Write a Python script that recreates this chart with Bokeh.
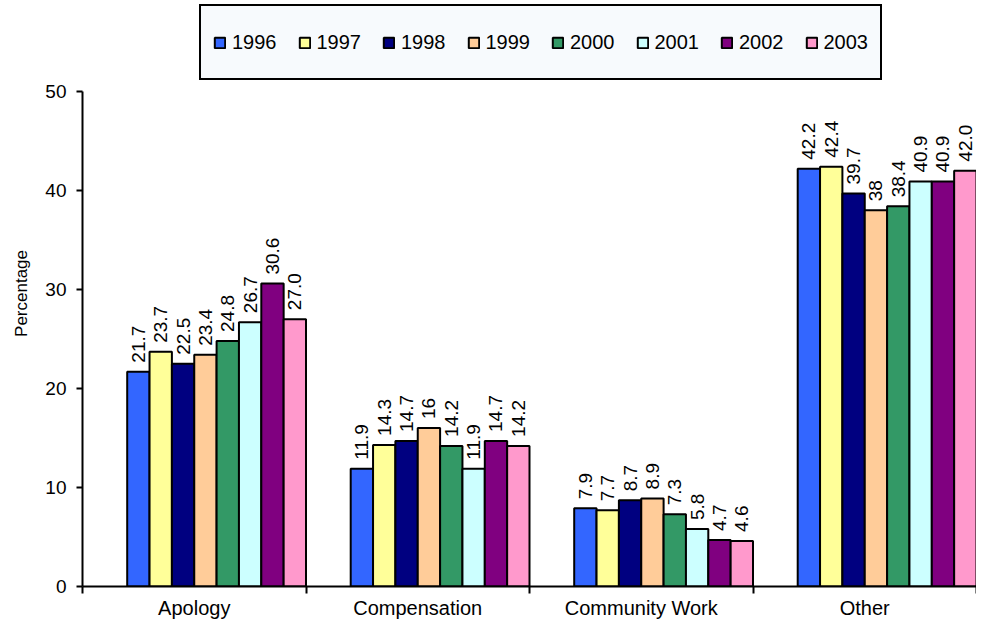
import numpy as np
from bokeh.plotting import figure
from bokeh.models import ColumnDataSource, FixedTicker, Legend, LegendItem, Range1d
from bokeh.embed import file_html
from bokeh.resources import INLINE
from bokeh.core.properties import value

categories = ["Apology", "Compensation", "Community Work", "Other"]
years = ["1996", "1997", "1998", "1999", "2000", "2001", "2002", "2003"]
colors = ["#3366FF", "#FFFF99", "#000080", "#FFCC99", "#339966", "#CCFFFF", "#800080", "#FF99CC"]

v1996 = [21.7, 11.9, 7.9, 42.2]
v1997 = [23.7, 14.3, 7.7, 42.4]
v1998 = [22.5, 14.7, 8.7, 39.7]
v1999 = [23.4, 16.0, 8.9, 38.0]
v2000 = [24.8, 14.2, 7.3, 38.4]
v2001 = [26.7, 11.9, 5.8, 40.9]
v2002 = [30.6, 14.7, 4.7, 40.9]
v2003 = [27.0, 14.2, 4.6, 42.0]

t1996 = ["21.7", "11.9", "7.9", "42.2"]
t1997 = ["23.7", "14.3", "7.7", "42.4"]
t1998 = ["22.5", "14.7", "8.7", "39.7"]
t1999 = ["23.4", "16", "8.9", "38"]
t2000 = ["24.8", "14.2", "7.3", "38.4"]
t2001 = ["26.7", "11.9", "5.8", "40.9"]
t2002 = ["30.6", "14.7", "4.7", "40.9"]
t2003 = ["27.0", "14.2", "4.6", "42.0"]

y_ticks = [0, 10, 20, 30, 40, 50]

series = [v1996, v1997, v1998, v1999, v2000, v2001, v2002, v2003]
texts = [t1996, t1997, t1998, t1999, t2000, t2001, t2002, t2003]

FONT = "Liberation Sans"
BAR_W = 0.1
GROUP_OFFSET = 0.2

p = figure(width=976, height=621,
           x_range=Range1d(0, 4), y_range=Range1d(0, 59.19),
           output_backend="svg", toolbar_location=None,
           min_border_left=82, min_border_right=0,
           min_border_top=0, min_border_bottom=35)
p.outline_line_color = None
p.xgrid.visible = False
p.ygrid.visible = False
p.background_fill_color = "white"
p.border_fill_color = "white"

items = []
for j, (yr, col, vals, txt) in enumerate(zip(years, colors, series, texts)):
    xs = [i + GROUP_OFFSET + BAR_W * (j + 0.5) for i in range(len(categories))]
    src = ColumnDataSource(dict(x=xs, top=vals, label=txt))
    r = p.vbar(x="x", top="top", bottom=0, width=BAR_W, source=src,
               fill_color=col, line_color="black", line_width=2)
    p.text(x="x", y="top", text="label", source=src, angle=np.pi / 2,
           text_align="left", text_baseline="middle", y_offset=-9,
           text_font=value(FONT), text_font_size="19px", text_color="black")
    items.append(LegendItem(label=yr, renderers=[r]))

# axes
xa = p.xaxis[0]
xa.ticker = FixedTicker(ticks=[i + 0.5 for i in range(len(categories))],
                        minor_ticks=list(range(len(categories) + 1)))
xa.major_label_overrides = {i + 0.5: c for i, c in enumerate(categories)}
xa.major_tick_out = 0
xa.major_tick_in = 0
xa.minor_tick_out = 7
xa.minor_tick_in = 0
xa.minor_tick_line_color = "black"
xa.minor_tick_line_width = 2
xa.axis_line_color = "black"
xa.axis_line_width = 2
xa.major_label_standoff = 3
xa.major_label_text_font = FONT
xa.major_label_text_font_size = "20px"
xa.major_label_text_color = "black"

ya = p.yaxis[0]
ya.ticker = FixedTicker(ticks=y_ticks, minor_ticks=[])
ya.bounds = (0, 50)
ya.major_tick_out = 6
ya.major_tick_in = 0
ya.major_tick_line_color = "black"
ya.major_tick_line_width = 2
ya.axis_line_color = "black"
ya.axis_line_width = 2
ya.major_label_standoff = 10
ya.major_label_text_font = FONT
ya.major_label_text_font_size = "19px"
ya.major_label_text_color = "black"
ya.axis_label = "Percentage"
ya.axis_label_text_font = FONT
ya.axis_label_text_font_size = "17px"
ya.axis_label_text_font_style = "normal"
ya.axis_label_text_color = "black"
ya.axis_label_standoff = 11

legend = Legend(items=items, orientation="horizontal", location=(117, 506),
                padding=12, label_height=48, glyph_width=13, glyph_height=13,
                label_standoff=6, spacing=21, margin=0,
                border_line_color="black", border_line_width=2,
                border_line_alpha=1.0,
                background_fill_color="#f7fafd", background_fill_alpha=1.0,
                label_text_font=FONT, label_text_font_size="20px",
                label_text_color="black")
p.add_layout(legend)

open("out.html", "w").write(file_html(p, INLINE))
